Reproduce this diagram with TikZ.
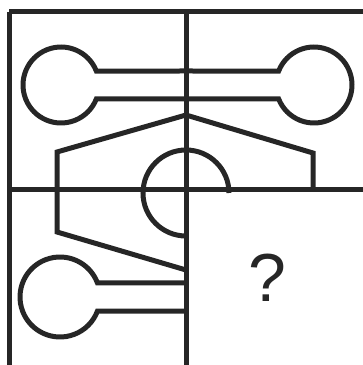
\documentclass[tikz,border=0pt]{standalone}
\usepackage{fontspec}
\setmainfont{Liberation Sans}
\usepackage{xcolor}
\definecolor{cLine}{HTML}{262626}
\usepackage{tikz}
\usetikzlibrary{calc}
\tikzset{
  grid-line/.style={draw=cLine,line width=5pt},
  figure-line/.style={draw=cLine,line width=5pt,line join=miter},
  ask-mark/.style={text=cLine,inner sep=0pt,font=\fontsize{68}{80}\selectfont},
}

\begin{document}
\begin{tikzpicture}[x=1pt,y=1pt]
  \useasboundingbox (0,0) rectangle (363,365);
  % grid
  \coordinate (tl) at (9,353);
  \coordinate (tr) at (363,353);
  \coordinate (bl) at (9,0);
  \coordinate (mt) at (186,353);
  \coordinate (mb) at (186,0);
  \coordinate (ml) at (9,175);
  \coordinate (mr) at (363,175);
  \draw[grid-line] (tl) -- (tr);
  \draw[grid-line] (tl) -- (bl);
  \draw[grid-line] (mt) -- (mb);
  \draw[grid-line] (ml) -- (mr);
  % top circles with stems
  \coordinate (c-tl) at (61,280);
  \coordinate (c-tr) at (314,280);
  \coordinate (c-bl) at (60,68);
  \draw[figure-line] (186,294) -- ($(c-tl)+(21.6:38)$)
    arc[start angle=21.6,end angle=338.4,radius=38] -- (186,266);
  \draw[figure-line] (186,294) -- ($(c-tr)+(158.4:38)$)
    arc[start angle=158.4,end angle=-158.4,radius=38] -- (186,266);
  % bottom circle with stem
  \draw[figure-line] (186,82) -- ($(c-bl)+(20.5:40)$)
    arc[start angle=20.5,end angle=339.5,radius=40] -- (186,54);
  % roof shape
  \draw[figure-line] (186,95) -- (57,133) -- (57,213) -- (186,250)
    -- (313,212) -- (313,175);
  % three-quarter circle
  \coordinate (c-mid) at (186,172);
  \draw[figure-line] ($(c-mid)+(0:43)$) arc[start angle=0,end angle=270,radius=43];
  % question
  \node[ask-mark] (ask) at (267,87) {?};
\end{tikzpicture}
\end{document}
